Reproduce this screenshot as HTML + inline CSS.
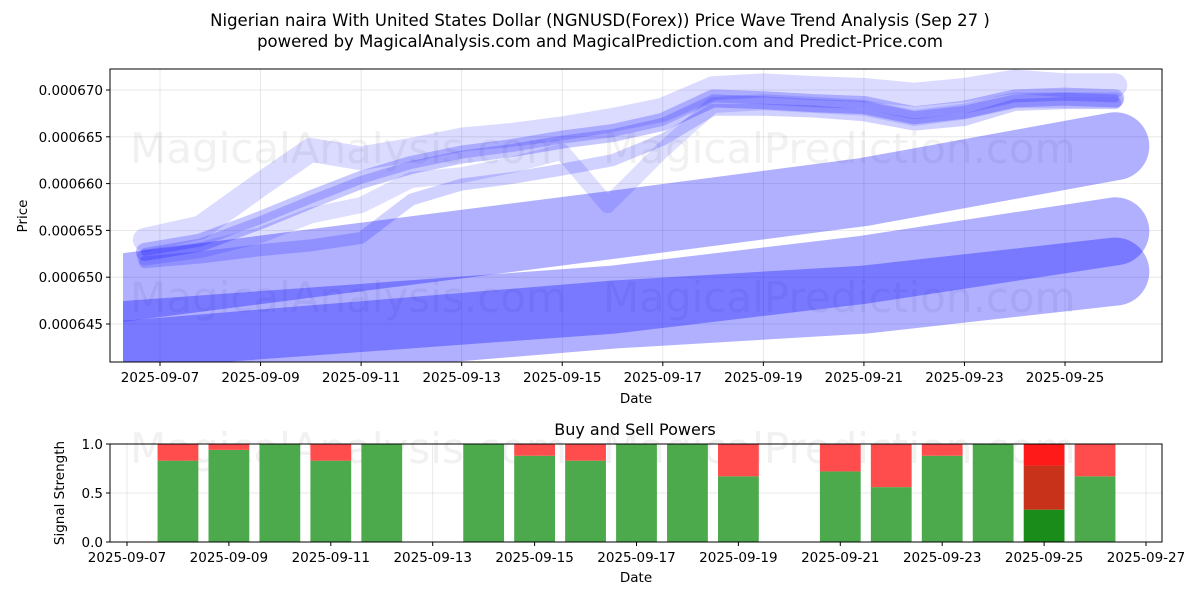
<!DOCTYPE html>
<html><head><meta charset="utf-8"><style>
html,body{margin:0;padding:0;background:#fff;}
svg{display:block;font-family:"DejaVu Sans","Liberation Sans",sans-serif;}
</style></head><body>
<svg id="c" width="1200" height="600" viewBox="0 0 1200 600" xmlns="http://www.w3.org/2000/svg">
<rect width="1200" height="600" fill="#fff"/>
<text x="600" y="26" text-anchor="middle" font-size="16.5" fill="#000">Nigerian naira With United States Dollar (NGNUSD(Forex)) Price Wave Trend Analysis (Sep 27 )</text>
<text x="600" y="47" text-anchor="middle" font-size="16.5" fill="#000">powered by MagicalAnalysis.com and MagicalPrediction.com and Predict-Price.com</text>
<defs>
<clipPath id="topclip"><rect x="110" y="69" width="1052" height="293"/></clipPath>
<clipPath id="bandclip"><rect x="123" y="69" width="1039" height="293"/></clipPath>
</defs>
<g id="topg"></g>
<g id="botg"></g>
</svg>
<script>
// ---- top chart data (values in millionths of USD) ----
const lineDays = [6.7,7.8,9,10,11,12,13,14,15,16,17,18,19,20,21,22,23,24,25,26];
const line1 = [652.7,653.7,656.1,658.3,660.4,662.0,663.1,663.8,664.7,665.4,666.6,669.1,668.9,668.6,668.4,667.3,667.9,669.1,669.3,669.1];
const line2 = [654.0,655.3,659.9,663.6,662.7,663.6,664.7,665.2,665.9,666.8,667.9,670.2,670.5,670.2,670.0,669.5,670.0,670.9,670.5,670.5];
const line3Days = [6.7,7.8,9,10,11,12,13,14,15,15.9,17,18,19,20,21,22,23,24,25,26];
const line3 = [652.1,652.9,654.5,656.6,657.7,660.4,660.9,662.0,663.4,657.7,663.6,668.4,668.7,668.4,668.1,667.0,667.7,668.9,668.9,668.9];
const line4 = [651.6,652.1,652.9,653.4,654.2,658.3,659.9,660.6,661.5,662.5,664.7,667.9,667.9,667.7,667.3,666.3,666.8,668.4,668.6,668.6];
const bandDays = [6.26,16,21,26];
const band1 = [648.9,655.6,659.1,664.0];
const band2 = [643.8,647.6,650.8,654.9];
const band3 = [641.7,646.0,647.6,650.6];
const yTicks = [645,650,655,660,665,670];
const yTickLabels = ["0.000645","0.000650","0.000655","0.000660","0.000665","0.000670"];
const xTickDays = [7,9,11,13,15,17,19,21,23,25];
const xTickLabels = ["2025-09-07","2025-09-09","2025-09-11","2025-09-13","2025-09-15","2025-09-17","2025-09-19","2025-09-21","2025-09-23","2025-09-25"];
// ---- bottom chart data ----
const barDays = [8,9,10,11,12,14,15,16,17,18,19,21,22,23,24,25,26];
const buyPower = [0.83,0.94,1.0,0.83,1.0,1.0,0.88,0.83,1.0,1.0,0.67,0.72,0.56,0.88,1.0,0.33,0.67];
const bx2Days = [7,9,11,13,15,17,19,21,23,25,27];
const bx2Labels = ["2025-09-07","2025-09-09","2025-09-11","2025-09-13","2025-09-15","2025-09-17","2025-09-19","2025-09-21","2025-09-23","2025-09-25","2025-09-27"];
const by2Ticks = [0,0.5,1.0];
const by2Labels = ["0.0","0.5","1.0"];

const NS="http://www.w3.org/2000/svg";
function mk(tag,attrs,parent){const e=document.createElementNS(NS,tag);for(const k in attrs)e.setAttribute(k,attrs[k]);parent.appendChild(e);return e;}
const X=d=>160+(d-7)*50.28;
const Y=v=>90+(670-v)/5*46.8;
const X2=d=>127+(d-7)*50.95;
const Y2=v=>542-v*98;

const topG=document.getElementById('topg');
yTicks.forEach((v)=>{const g=mk('line',{x1:110,x2:1162,y1:Y(v),y2:Y(v),stroke:'#b0b0b0','stroke-opacity':0.35,'stroke-width':0.8},topG);

});
xTickDays.forEach((d)=>{const g=mk('line',{x1:X(d),x2:X(d),y1:69,y2:362,stroke:'#b0b0b0','stroke-opacity':0.35,'stroke-width':0.8},topG);

});
[[130,163,'MagicalAnalysis.com'],[603,163,'MagicalPrediction.com'],[130,312,'MagicalAnalysis.com'],[603,312,'MagicalPrediction.com']].forEach(w=>{
const tt=mk('text',{x:w[0],y:w[1],'font-size':42,fill:'#888','fill-opacity':0.12},topG);tt.textContent=w[2];

});
const plot=mk('g',{'clip-path':'url(#topclip)'},topG);
const bandPlot=mk('g',{'clip-path':'url(#bandclip)'},plot);
function pathOf(days,vals){return days.map((d,i)=>(i?'L':'M')+X(d).toFixed(1)+' '+Y(vals[i]).toFixed(1)).join(' ');}
[[band1,'band-upper'],[band2,'band-middle'],[band3,'band-lower']].forEach(b=>{
const p=mk('path',{d:pathOf(bandDays,b[0]),fill:'none',stroke:'#0000ff','stroke-opacity':0.31,'stroke-width':68,'stroke-linecap':'round','stroke-linejoin':'round'},bandPlot);


});
[[lineDays,line2,0.14,24,'wave-line-upper'],[line3Days,line3,0.13,16,'wave-line-dip'],[lineDays,line4,0.18,12,'wave-line-lower'],[lineDays,line1,0.22,18,'wave-line-main'],[lineDays,line1,0.18,8,'wave-line-core']].forEach(l=>{
const p=mk('path',{d:pathOf(l[0],l[1]),fill:'none',stroke:'#0000ff','stroke-opacity':l[2],'stroke-width':l[3],'stroke-linecap':'round','stroke-linejoin':'round'},plot);

});
const ax=mk('rect',{x:110,y:69,width:1052,height:293,fill:'none',stroke:'#000','stroke-width':1},topG);


yTicks.forEach((v,i)=>{mk('line',{x1:106,x2:110,y1:Y(v),y2:Y(v),stroke:'#000'},topG);
const tt=mk('text',{x:103,y:Y(v)+5,'text-anchor':'end','font-size':13.5},topG);tt.textContent=yTickLabels[i];

});
xTickDays.forEach((d,i)=>{mk('line',{x1:X(d),x2:X(d),y1:362,y2:366,stroke:'#000'},topG);
const tt=mk('text',{x:X(d),y:382,'text-anchor':'middle','font-size':13.5},topG);tt.textContent=xTickLabels[i];

});
let lbl=mk('text',{x:636,y:403,'text-anchor':'middle','font-size':13.5},topG);lbl.textContent='Date';


lbl=mk('text',{x:27,y:216,'text-anchor':'middle','font-size':13.5,transform:'rotate(-90 27 216)'},topG);lbl.textContent='Price';



const botG=document.getElementById('botg');
lbl=mk('text',{x:635,y:435,'text-anchor':'middle','font-size':16},botG);lbl.textContent='Buy and Sell Powers';


by2Ticks.forEach(v=>{const g=mk('line',{x1:110,x2:1162,y1:Y2(v),y2:Y2(v),stroke:'#b0b0b0','stroke-opacity':0.35,'stroke-width':0.8},botG);

});
bx2Days.forEach(d=>{const g=mk('line',{x1:X2(d),x2:X2(d),y1:444,y2:542,stroke:'#b0b0b0','stroke-opacity':0.35,'stroke-width':0.8},botG);

});
[[130,463,'MagicalAnalysis.com'],[603,463,'MagicalPrediction.com']].forEach(w=>{
const tt=mk('text',{x:w[0],y:w[1],'font-size':42,fill:'#888','fill-opacity':0.12},botG);tt.textContent=w[2];

});
barDays.forEach((d,i)=>{
const v=buyPower[i];const x=X2(d)-20.4;
const special=(d===25);
const g=mk('rect',{x:x,y:Y2(v),width:40.8,height:Y2(0)-Y2(v),fill:special?'#1a8c1a':'#4caa4c'},botG);


if(special){
const m=mk('rect',{x:x,y:Y2(0.78),width:40.8,height:Y2(v)-Y2(0.78),fill:'#c8321a'},botG);


const r=mk('rect',{x:x,y:Y2(1),width:40.8,height:Y2(0.78)-Y2(1),fill:'#ff1a1a'},botG);


}else if(v<1){
const r=mk('rect',{x:x,y:Y2(1),width:40.8,height:Y2(v)-Y2(1),fill:'#ff4d4d'},botG);

}
});
const ax2=mk('rect',{x:110,y:444,width:1052,height:98,fill:'none',stroke:'#000','stroke-width':1},botG);


by2Ticks.forEach((v,i)=>{mk('line',{x1:106,x2:110,y1:Y2(v),y2:Y2(v),stroke:'#000'},botG);
const tt=mk('text',{x:103,y:Y2(v)+5,'text-anchor':'end','font-size':13.5},botG);tt.textContent=by2Labels[i];

});
bx2Days.forEach((d,i)=>{mk('line',{x1:X2(d),x2:X2(d),y1:542,y2:546,stroke:'#000'},botG);
const tt=mk('text',{x:X2(d),y:562,'text-anchor':'middle','font-size':13.5},botG);tt.textContent=bx2Labels[i];

});
lbl=mk('text',{x:636,y:582,'text-anchor':'middle','font-size':13.5},botG);lbl.textContent='Date';


lbl=mk('text',{x:64,y:493,'text-anchor':'middle','font-size':13.5,transform:'rotate(-90 64 493)'},botG);lbl.textContent='Signal Strength';


</script>
</body></html>
